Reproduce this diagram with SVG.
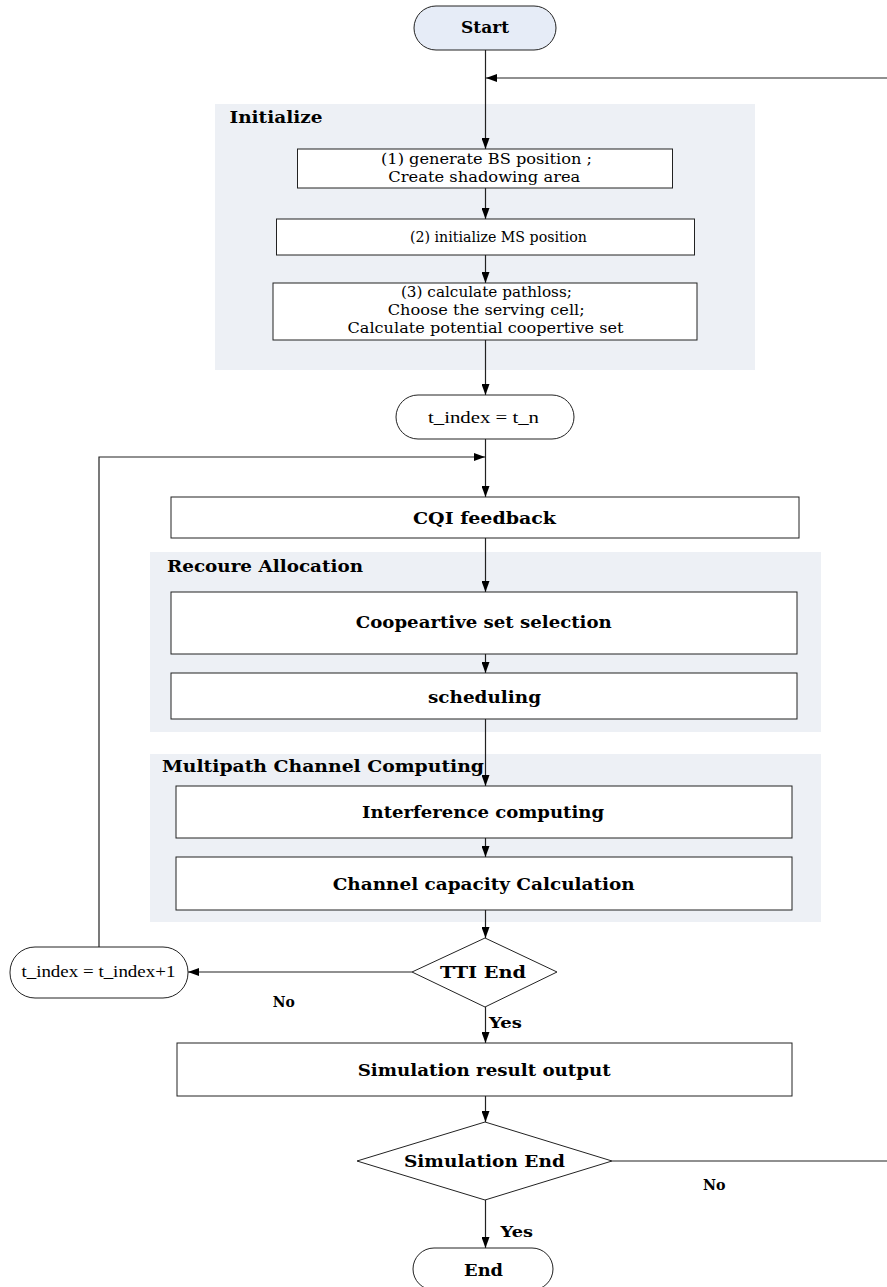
<svg xmlns="http://www.w3.org/2000/svg" width="887" height="1287" viewBox="0 0 887 1287">
<style>
.panel{fill:#edf0f5;stroke:none}
.box{fill:#fff;stroke:#222;stroke-width:1}
.term{fill:#fff;stroke:#222;stroke-width:1}
.t{font-family:"DejaVu Serif",serif;fill:#000;text-anchor:middle}
.b{font-weight:bold;font-size:17.5px}
.r{font-size:15px}
.tm{font-family:"Liberation Serif","Times New Roman",serif;font-size:17px;fill:#000;text-anchor:middle}
.lbl{font-family:"DejaVu Serif",serif;font-weight:bold;font-size:16.5px;fill:#000}
.yn{font-family:"DejaVu Serif",serif;font-weight:bold;font-size:15px;fill:#000}
.c{fill:none;stroke:#222;stroke-width:1.2}
</style>
<defs>
<marker id="ah" markerUnits="userSpaceOnUse" markerWidth="11" markerHeight="8" refX="11" refY="4" orient="auto">
<path d="M0,0 L11,4 L0,8 z" fill="#000"/>
</marker>
</defs>

<g id="panel-initialize">
<rect class="panel" x="215" y="104" width="540" height="266"/>
<text class="lbl" x="229.5" y="123.3" textLength="93" lengthAdjust="spacingAndGlyphs">Initialize</text>
</g>
<g id="panel-resource">
<rect class="panel" x="150" y="552" width="671" height="180"/>
<text class="lbl" x="167" y="572.3" textLength="196" lengthAdjust="spacingAndGlyphs">Recoure Allocation</text>
</g>
<g id="panel-multipath">
<rect class="panel" x="150" y="754" width="671" height="168"/>
<text class="lbl" x="162" y="772.3" textLength="322" lengthAdjust="spacingAndGlyphs">Multipath Channel Computing</text>
</g>

<g id="connectors">
<path class="c" d="M485.5,50 V149" marker-end="url(#ah)"/>
<path class="c" d="M612,1161 H892 V78 H486" marker-end="url(#ah)"/>
<path class="c" d="M485.5,188 V219" marker-end="url(#ah)"/>
<path class="c" d="M485.5,255 V283" marker-end="url(#ah)"/>
<path class="c" d="M485.5,340 V395" marker-end="url(#ah)"/>
<path class="c" d="M485.5,439 V497" marker-end="url(#ah)"/>
<path class="c" d="M99,947 V457 H485" marker-end="url(#ah)"/>
<path class="c" d="M485.5,538 V592" marker-end="url(#ah)"/>
<path class="c" d="M485.5,654 V673" marker-end="url(#ah)"/>
<path class="c" d="M485.5,719 V786" marker-end="url(#ah)"/>
<path class="c" d="M485.5,838 V857" marker-end="url(#ah)"/>
<path class="c" d="M485.5,910 V938" marker-end="url(#ah)"/>
<path class="c" d="M412,972 H188" marker-end="url(#ah)"/>
<path class="c" d="M485.5,1007 V1043" marker-end="url(#ah)"/>
<path class="c" d="M485.5,1096 V1122" marker-end="url(#ah)"/>
<path class="c" d="M485.5,1200 V1248" marker-end="url(#ah)"/>
<text class="yn" x="272.7" y="1007" textLength="22" lengthAdjust="spacingAndGlyphs">No</text>
<text class="yn" x="489" y="1027.5" textLength="33" lengthAdjust="spacingAndGlyphs">Yes</text>
<text class="yn" x="703" y="1190" textLength="22.5" lengthAdjust="spacingAndGlyphs">No</text>
<text class="yn" x="500.5" y="1237.3" textLength="32.5" lengthAdjust="spacingAndGlyphs">Yes</text>
</g>

<g id="start">
<rect x="414" y="6" width="142" height="44" rx="22" ry="22" fill="#e6ecf7" stroke="#222" stroke-width="1"/>
<text class="t b" x="485" y="33.3" textLength="48" lengthAdjust="spacingAndGlyphs">Start</text>
</g>

<g id="box1">
<rect class="box" x="297.5" y="149" width="375" height="39"/>
<text class="t r" x="486.5" y="164" textLength="211" lengthAdjust="spacingAndGlyphs">(1)  generate BS position ;</text>
<text class="t r" x="484.3" y="182" textLength="192" lengthAdjust="spacingAndGlyphs">Create shadowing area</text>
</g>

<g id="box2">
<rect class="box" x="276.5" y="219" width="418" height="36"/>
<text class="t r" x="498.4" y="242.3" textLength="177" lengthAdjust="spacingAndGlyphs">(2) initialize MS position</text>
</g>

<g id="box3">
<rect class="box" x="273" y="283" width="424" height="57"/>
<text class="t r" x="486.4" y="296.7" textLength="171" lengthAdjust="spacingAndGlyphs">(3) calculate pathloss;</text>
<text class="t r" x="486.2" y="315" textLength="197" lengthAdjust="spacingAndGlyphs">Choose the serving cell;</text>
<text class="t r" x="485.5" y="333.3" textLength="276" lengthAdjust="spacingAndGlyphs">Calculate potential coopertive set</text>
</g>

<g id="t-index-init">
<rect class="term" x="396" y="395" width="178" height="44" rx="22" ry="22"/>
<text class="tm" x="483.5" y="423.3" textLength="111" lengthAdjust="spacingAndGlyphs">t_index = t_n</text>
</g>

<g id="cqi">
<rect class="box" x="171" y="497" width="628" height="41"/>
<text class="t b" x="484.5" y="524" textLength="143" lengthAdjust="spacingAndGlyphs">CQI feedback</text>
</g>

<g id="coop">
<rect class="box" x="171" y="592" width="626" height="62"/>
<text class="t b" x="483.8" y="628.3" textLength="256" lengthAdjust="spacingAndGlyphs">Coopeartive set selection</text>
</g>

<g id="sched">
<rect class="box" x="171" y="673" width="626" height="46"/>
<text class="t b" x="484.5" y="703" textLength="113" lengthAdjust="spacingAndGlyphs">scheduling</text>
</g>

<g id="interference">
<rect class="box" x="176" y="786" width="616" height="52"/>
<text class="t b" x="483.1" y="818" textLength="242" lengthAdjust="spacingAndGlyphs">Interference computing</text>
</g>

<g id="capacity">
<rect class="box" x="176" y="857" width="616" height="53"/>
<text class="t b" x="483.7" y="890" textLength="302" lengthAdjust="spacingAndGlyphs">Channel capacity Calculation</text>
</g>

<g id="tti-end">
<polygon points="412,972 485,938 557,972 485,1007" fill="#fff" stroke="#222" stroke-width="1"/>
<text class="t b" x="483" y="978.3" textLength="86" lengthAdjust="spacingAndGlyphs">TTI End</text>
</g>

<g id="t-index-inc">
<rect class="term" x="10" y="947" width="178" height="51" rx="25" ry="25"/>
<text class="tm" x="98.4" y="976.7" textLength="154" lengthAdjust="spacingAndGlyphs">t_index = t_index+1</text>
</g>

<g id="sim-result">
<rect class="box" x="177" y="1043" width="615" height="53"/>
<text class="t b" x="484.2" y="1076" textLength="253" lengthAdjust="spacingAndGlyphs">Simulation result output</text>
</g>

<g id="sim-end">
<polygon points="357,1161 485,1122 612,1161 485,1200" fill="#fff" stroke="#222" stroke-width="1"/>
<text class="t b" x="484.4" y="1166.7" textLength="161" lengthAdjust="spacingAndGlyphs">Simulation End</text>
</g>

<g id="end">
<rect class="term" x="413" y="1248" width="140" height="42" rx="21" ry="21"/>
<text class="t b" x="483.6" y="1275.7" textLength="39" lengthAdjust="spacingAndGlyphs">End</text>
</g>
</svg>
